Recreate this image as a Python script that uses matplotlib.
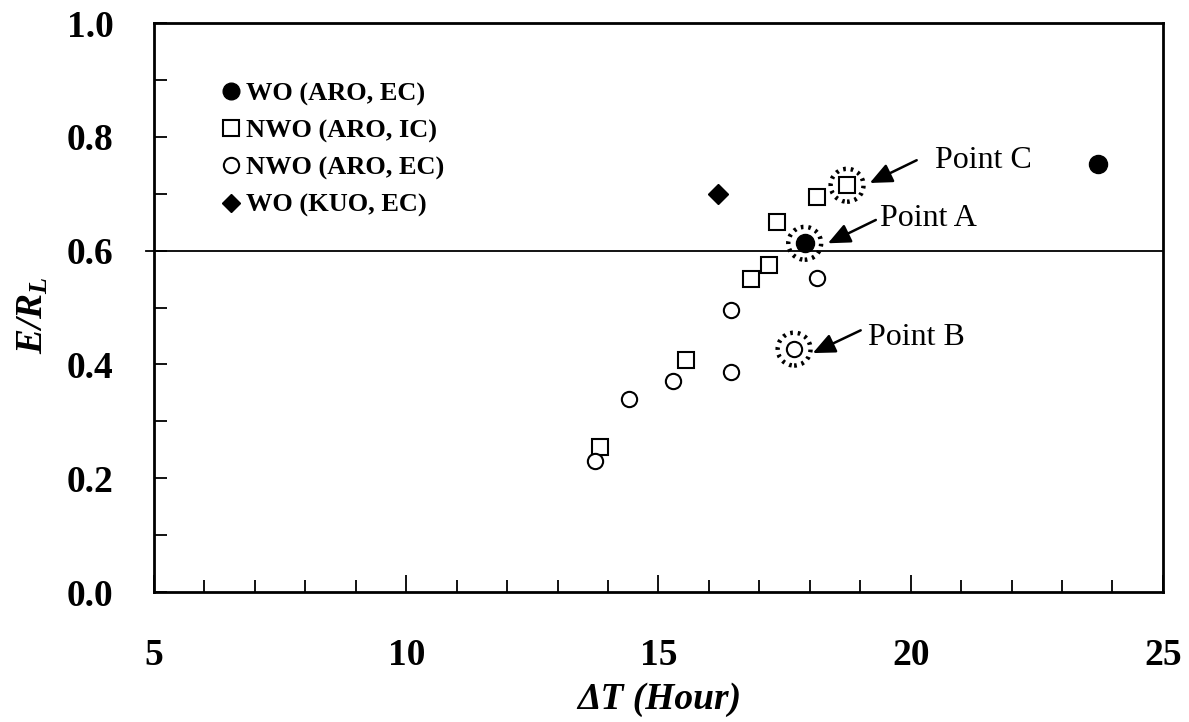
import matplotlib
matplotlib.use("Agg")
import matplotlib.pyplot as plt
from matplotlib.ticker import MultipleLocator

# ---------------------------------------------------------------------
# DADES
# ---------------------------------------------------------------------
wo_aro_ec_x = [17.90, 23.72]
wo_aro_ec_y = [0.613, 0.752]

nwo_aro_ic_x = [13.84, 15.54, 16.84, 17.20, 17.36, 18.15, 18.74]
nwo_aro_ic_y = [0.255, 0.407, 0.550, 0.575, 0.651, 0.695, 0.715]

nwo_aro_ec_x = [13.74, 14.42, 15.29, 16.44, 16.44, 17.69, 18.15]
nwo_aro_ec_y = [0.230, 0.339, 0.371, 0.386, 0.496, 0.427, 0.552]

wo_kuo_ec_x = [16.19]
wo_kuo_ec_y = [0.699]

# punts destacats (A, B, C), etiquetes i fletxes
punts_labels = ["Point A", "Point B", "Point C"]
punts_x = [17.90, 17.69, 18.74]
punts_y = [0.613, 0.427, 0.715]
text_x = [19.39, 19.15, 20.48]
text_y = [0.657, 0.448, 0.759]
cua_x = [19.31, 19.01, 20.12]
cua_y = [0.654, 0.460, 0.759]
cap_x = [18.36, 18.06, 19.19]
cap_y = [0.613, 0.420, 0.719]

LLINDAR = 0.6

plt.rcParams["font.family"] = "Liberation Serif"
plt.rcParams["mathtext.fontset"] = "custom"
plt.rcParams["mathtext.it"] = "Liberation Serif:italic:bold"
plt.rcParams["mathtext.rm"] = "Liberation Serif:bold:italic"


def main():
    fig = plt.figure(figsize=(11.89, 7.22), dpi=100)
    ax = fig.add_axes([0.1295, 0.180, 0.8485, 0.788])

    ax.plot(wo_aro_ec_x, wo_aro_ec_y, "o", color="black", ms=13,
            ls="none", label="WO (ARO, EC)", zorder=4)
    ax.plot(nwo_aro_ic_x, nwo_aro_ic_y, "s", mfc="white", mec="black",
            mew=1.5, ms=11.5, ls="none", label="NWO (ARO, IC)", zorder=4)
    ax.plot(nwo_aro_ec_x, nwo_aro_ec_y, "o", mfc="white", mec="black",
            mew=1.5, ms=11, ls="none", label="NWO (ARO, EC)", zorder=4)
    ax.plot(wo_kuo_ec_x, wo_kuo_ec_y, "D", color="black", ms=10,
            ls="none", label="WO (KUO, EC)", zorder=4)

    # cercles puntejats al voltant dels punts destacats
    ax.scatter(punts_x, punts_y, s=560, facecolors="none",
               edgecolors="black", linewidths=3.2,
               linestyles=[(0, (0.6, 1.1))], zorder=3)

    for i, lab in enumerate(punts_labels):
        ax.annotate("", xy=(cap_x[i], cap_y[i]), xytext=(cua_x[i], cua_y[i]),
                    arrowprops=dict(arrowstyle="-|>,head_length=0.9,head_width=0.4",
                                    mutation_scale=15,
                                    color="black", lw=1.8,
                                    shrinkA=0, shrinkB=0))
        ax.text(text_x[i], text_y[i], lab, fontsize=23, ha="left", va="center")

    ax.axhline(LLINDAR, xmin=-0.008, xmax=1, color="black", lw=1.3,
               clip_on=False, zorder=2)

    ax.set_xlim(5, 25)
    ax.set_ylim(0, 1.0)
    ax.xaxis.set_major_locator(MultipleLocator(5))
    ax.xaxis.set_minor_locator(MultipleLocator(1))
    ax.yaxis.set_major_locator(MultipleLocator(0.2))
    ax.yaxis.set_minor_locator(MultipleLocator(0.1))
    ax.tick_params(axis="both", which="both", direction="in", width=1.3)
    ax.tick_params(axis="x", which="major", length=12, pad=33)
    ax.tick_params(axis="x", which="minor", length=9)
    ax.tick_params(axis="y", which="major", length=9, pad=29)
    ax.tick_params(axis="y", which="minor", length=9)
    ax.yaxis.set_major_formatter(plt.FuncFormatter(lambda v, p: f"{v:.1f}"))
    for lbl in ax.get_xticklabels() + ax.get_yticklabels():
        lbl.set_fontsize(27)
        lbl.set_fontweight("bold")
    for sp in ax.spines.values():
        sp.set_linewidth(2)

    ax.set_xlabel("ΔT (Hour)", fontsize=27, fontweight="bold",
                  fontstyle="italic")
    ax.xaxis.set_label_coords(0.501, -0.158)
    ax.set_ylabel(r"$E/R_L$", fontsize=27)
    ax.yaxis.set_label_coords(-0.102, 0.487)

    leg = ax.legend(loc="upper left", bbox_to_anchor=(0.048, 0.915),
                    frameon=False, handletextpad=-0.15,
                    labelspacing=0.5, borderaxespad=0, handlelength=1.4,
                    prop={"weight": "bold", "size": 19})
    for h, ms in zip(leg.legend_handles, [12, 11, 11, 9]):
        h.set_markersize(ms)

    fig.savefig("out.png", dpi=100, facecolor="white")
    plt.close(fig)


if __name__ == "__main__":
    main()
